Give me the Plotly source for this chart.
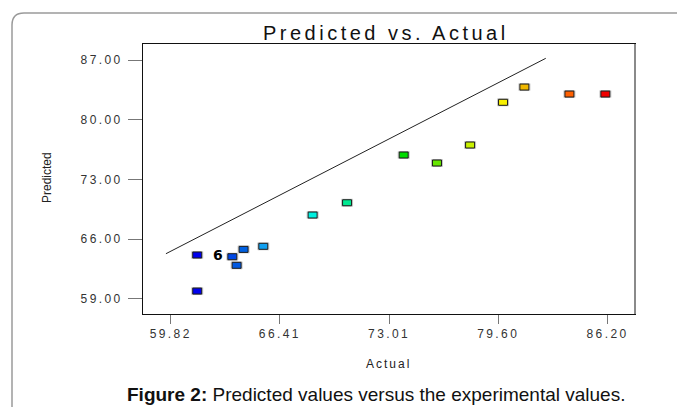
import plotly.graph_objects as go

# ---- data ----
actual = [61.42, 61.42, 63.54, 63.80, 64.22, 65.41, 68.39, 70.47, 73.89, 75.90, 77.90, 79.89, 81.18, 83.90, 86.07]
predicted = [64.13, 59.90, 63.93, 62.92, 64.79, 65.15, 68.82, 70.26, 75.86, 74.92, 77.03, 82.04, 83.83, 83.01, 83.01]
point_colors = ["#0000ee", "#0000ee", "#0048e6", "#0058e0", "#0060e0", "#10a0f0", "#00f0e0", "#00e890",
                "#00dd00", "#66e600", "#c8f000", "#f8f000", "#f0b800", "#ff6000", "#f00000"]
line_x = [59.53, 82.47]
line_y = [64.28, 87.20]
x_tick_vals = [59.82, 66.41, 73.01, 79.60, 86.20]
x_tick_labels = ["59.82", "66.41", "73.01", "79.60", "86.20"]
y_tick_vals = [59.0, 66.0, 73.0, 80.0, 87.0]
y_tick_labels = ["59.00", "66.00", "73.00", "80.00", "87.00"]
multiplicity_label = "6"
multiplicity_pos = (62.70, 64.13)

W, H = 677, 407
ML, MR, MT, MB = 143, 42, 44, 93
PW, PH = W - ML - MR, H - MT - MB


def px_x(p):
    return (p - ML) / PW


def px_y(p):
    return (H - MB - p) / PH


def spaced(t, s):
    return f'<span style="letter-spacing:{s}px">{t}</span>'


fig = go.Figure()

fig.add_trace(go.Scatter(x=line_x, y=line_y, mode="lines",
                         line=dict(color="#222222", width=1), hoverinfo="skip", showlegend=False))
fig.add_trace(go.Scatter(x=actual, y=predicted, mode="markers",
                         marker=dict(size=8, color=point_colors, opacity=0),
                         showlegend=False))

shapes = []
for xv, yv, c in zip(actual, predicted, point_colors):
    shapes.append(dict(type="rect", xref="x", yref="y", xsizemode="pixel", ysizemode="pixel",
                       xanchor=xv, yanchor=yv, x0=-5.5, x1=5.5, y0=-3.5, y1=3.5,
                       fillcolor="rgba(0,0,0,0)", line=dict(color="#c8c8c8", width=1)))
    shapes.append(dict(type="rect", xref="x", yref="y", xsizemode="pixel", ysizemode="pixel",
                       xanchor=xv, yanchor=yv, x0=-4.5, x1=4.5, y0=-3, y1=3,
                       fillcolor=c, line=dict(color="#1a1a1a", width=1)))

# right border of the plot frame (grey)
shapes.append(dict(type="line", xref="paper", yref="paper", x0=1, x1=1, y0=0, y1=1,
                   line=dict(color="#8a8a8a", width=2)))
# outer rounded page frame (top + left edges)
r = 12
path = (f"M {px_x(12)} {px_y(420)} L {px_x(12)} {px_y(13 + r)} "
        f"Q {px_x(12)} {px_y(13)} {px_x(12 + r)} {px_y(13)} L {px_x(700)} {px_y(13)}")
shapes.append(dict(type="path", xref="paper", yref="paper", path=path,
                   line=dict(color="#9a9a9a", width=1.5)))

annotations = [
    dict(text=spaced("Predicted vs. Actual", 3.5), x=px_x(386), y=px_y(33), xref="paper", yref="paper",
         showarrow=False, xanchor="center", yanchor="middle",
         font=dict(family="Liberation Sans, Arial", size=20, color="#111111")),
    dict(text="Predicted", x=px_x(47), y=px_y(178), xref="paper", yref="paper", textangle=-90,
         showarrow=False, xanchor="center", yanchor="middle",
         font=dict(family="Liberation Sans Narrow, Arial Narrow, Liberation Sans", size=12, color="#222222")),
    dict(text=spaced("Actual", 2), x=px_x(388), y=px_y(364), xref="paper", yref="paper",
         showarrow=False, xanchor="center", yanchor="middle",
         font=dict(family="Liberation Sans, Arial", size=12, color="#222222")),
    dict(text="<b>Figure 2:</b> Predicted values versus the experimental values.",
         x=px_x(376), y=px_y(394), xref="paper", yref="paper",
         showarrow=False, xanchor="center", yanchor="middle",
         font=dict(family="Liberation Sans, Arial", size=19, color="#111111")),
    dict(text=f"<b>{multiplicity_label}</b>", x=multiplicity_pos[0], y=multiplicity_pos[1], xref="x", yref="y",
         showarrow=False, xanchor="center", yanchor="middle",
         font=dict(family="DejaVu Sans", size=14, color="#000000")),
]

fig.update_layout(
    width=W, height=H,
    margin=dict(l=ML, r=MR, t=MT, b=MB),
    paper_bgcolor="white", plot_bgcolor="white",
    shapes=shapes, annotations=annotations,
    showlegend=False,
    xaxis=dict(range=[58.145, 87.86], tickvals=x_tick_vals,
               ticktext=[spaced(t, 2.4) for t in x_tick_labels],
               ticks="outside", ticklen=9, tickcolor="#777777", tickwidth=1,
               showgrid=False, zeroline=False, showline=True, linecolor="#111111", linewidth=1,
               mirror=True, automargin=False,
               tickfont=dict(family="Liberation Sans, Arial", size=12, color="#333333")),
    yaxis=dict(range=[57.21, 88.88], tickvals=y_tick_vals,
               ticktext=[spaced(t, 2.4) for t in y_tick_labels],
               ticks="outside", ticklen=14, tickcolor="#777777", tickwidth=1,
               ticklabelstandoff=3,
               showgrid=False, zeroline=False, showline=True, linecolor="#111111", linewidth=1,
               mirror=True, automargin=False,
               tickfont=dict(family="Liberation Sans, Arial", size=12, color="#333333")),
)

fig.write_html("out.html", config={"displayModeBar": False},
               post_script="document.body.style.margin='0';document.body.style.overflow='hidden';")
